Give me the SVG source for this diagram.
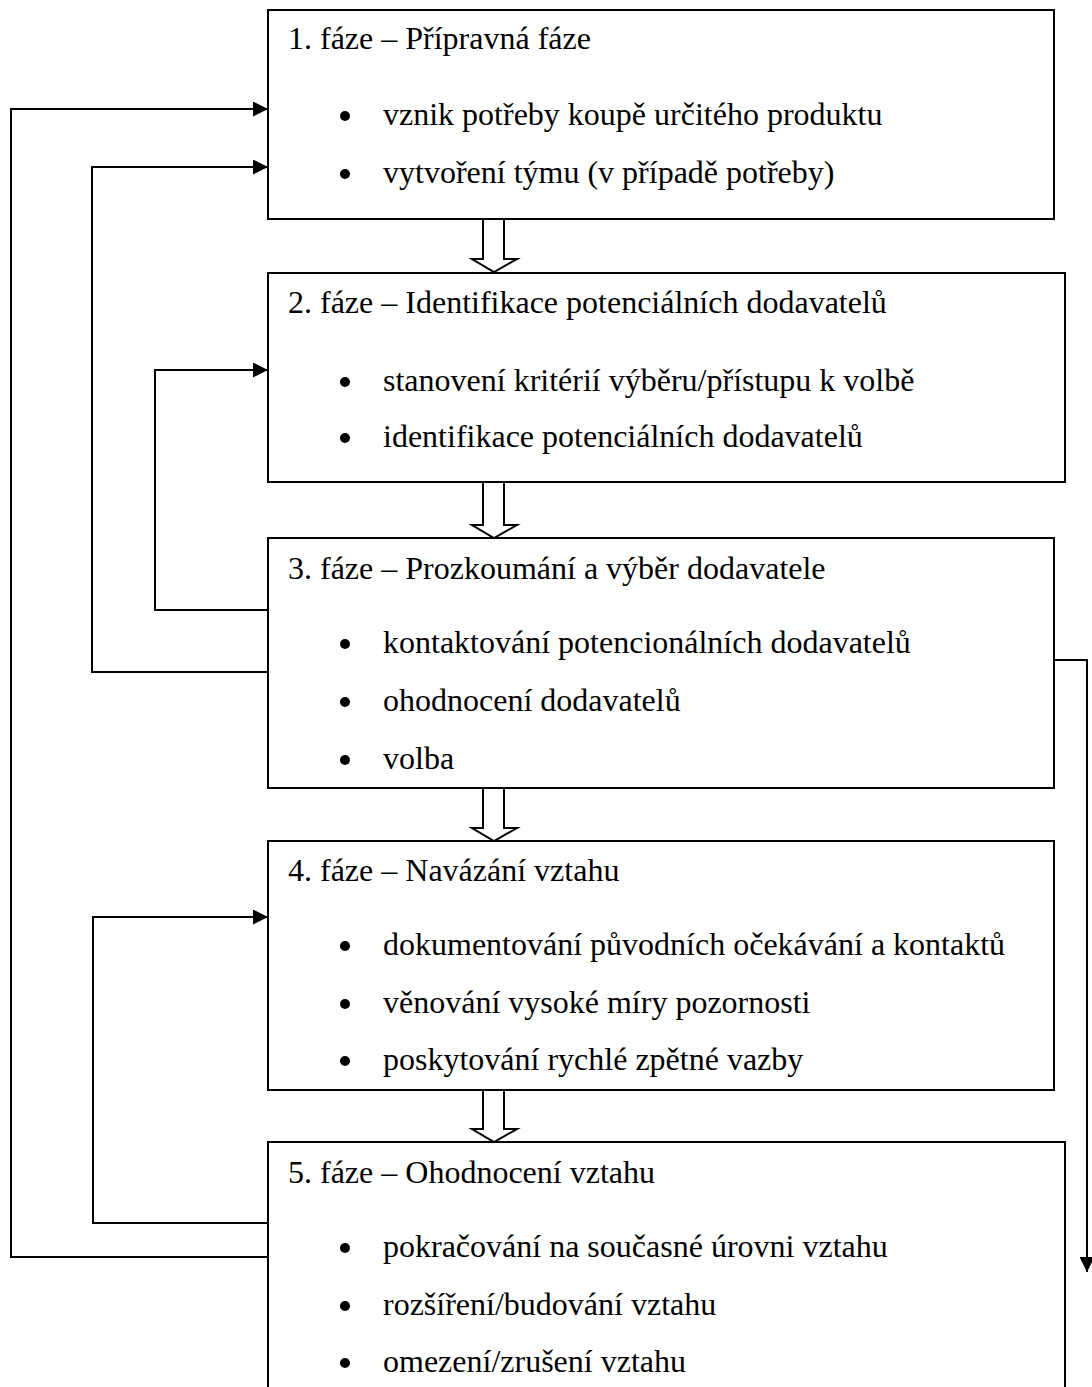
<svg xmlns="http://www.w3.org/2000/svg" width="1092" height="1387" viewBox="0 0 1092 1387">
<defs>
<style>
.box{fill:#fff;stroke:#000;stroke-width:2}
.t{font-family:"Liberation Serif","Times New Roman",serif;font-size:32px;fill:#000}
.bl{fill:#000}
.ln{fill:none;stroke:#000;stroke-width:2}
.ha{fill:#fff;stroke:#000;stroke-width:2;stroke-linejoin:miter}
</style>
<marker id="ah" viewBox="0 0 10 10" refX="10" refY="5" markerWidth="15" markerHeight="15" markerUnits="userSpaceOnUse" orient="auto">
<path d="M0,0 L10,5 L0,10 z" fill="#000"/>
</marker>
</defs>
<rect width="1092" height="1387" fill="#fff"/>
<g id="connectors">
<polyline class="ln" points="268,1257 11,1257 11,109 268,109" marker-end="url(#ah)"/>
<polyline class="ln" points="268,672 92,672 92,167 268,167" marker-end="url(#ah)"/>
<polyline class="ln" points="268,610 155,610 155,370 268,370" marker-end="url(#ah)"/>
<polyline class="ln" points="268,1223 93,1223 93,917 268,917" marker-end="url(#ah)"/>
<polyline class="ln" points="1054,660 1087,660 1087,1272" marker-end="url(#ah)"/>
</g>
<g id="node1">
<rect class="box" x="268" y="10" width="786" height="209"/>
<text class="t" x="288" y="49">1. fáze – Přípravná fáze</text>
<circle class="bl" cx="345" cy="116" r="5"/><text class="t" x="383" y="125">vznik potřeby koupě určitého produktu</text>
<circle class="bl" cx="345" cy="174" r="5"/><text class="t" x="383" y="183">vytvoření týmu (v případě potřeby)</text>
</g>
<g id="node2">
<rect class="box" x="268" y="273" width="797" height="209"/>
<text class="t" x="288" y="313">2. fáze – Identifikace potenciálních dodavatelů</text>
<circle class="bl" cx="345" cy="382" r="5"/><text class="t" x="383" y="391">stanovení kritérií výběru/přístupu k volbě</text>
<circle class="bl" cx="345" cy="438" r="5"/><text class="t" x="383" y="447">identifikace potenciálních dodavatelů</text>
</g>
<g id="node3">
<rect class="box" x="268" y="538" width="786" height="250"/>
<text class="t" x="288" y="579">3. fáze – Prozkoumání a výběr dodavatele</text>
<circle class="bl" cx="345" cy="644" r="5"/><text class="t" x="383" y="653">kontaktování potencionálních dodavatelů</text>
<circle class="bl" cx="345" cy="702" r="5"/><text class="t" x="383" y="711">ohodnocení dodavatelů</text>
<circle class="bl" cx="345" cy="760" r="5"/><text class="t" x="383" y="769">volba</text>
</g>
<g id="node4">
<rect class="box" x="268" y="841" width="786" height="249"/>
<text class="t" x="288" y="881">4. fáze – Navázání vztahu</text>
<circle class="bl" cx="345" cy="946" r="5"/><text class="t" x="383" y="955">dokumentování původních očekávání a kontaktů</text>
<circle class="bl" cx="345" cy="1004" r="5"/><text class="t" x="383" y="1013">věnování vysoké míry pozornosti</text>
<circle class="bl" cx="345" cy="1061" r="5"/><text class="t" x="383" y="1070">poskytování rychlé zpětné vazby</text>
</g>
<g id="node5">
<rect class="box" x="268" y="1142" width="797" height="260"/>
<text class="t" x="288" y="1183">5. fáze – Ohodnocení vztahu</text>
<circle class="bl" cx="345" cy="1248" r="5"/><text class="t" x="383" y="1257">pokračování na současné úrovni vztahu</text>
<circle class="bl" cx="345" cy="1306" r="5"/><text class="t" x="383" y="1315">rozšíření/budování vztahu</text>
<circle class="bl" cx="345" cy="1363" r="5"/><text class="t" x="383" y="1372">omezení/zrušení vztahu</text>
</g>
<g id="flow-arrows">
<polygon class="ha" points="483,219 504,219 504,259 517,259 494,272 472,259 483,259"/>
<polygon class="ha" points="483,482 504,482 504,525 517,525 494,538 472,525 483,525"/>
<polygon class="ha" points="483,788 504,788 504,828 517,828 494,841 472,828 483,828"/>
<polygon class="ha" points="483,1090 504,1090 504,1129 517,1129 494,1142 472,1129 483,1129"/>
</g>
</svg>
